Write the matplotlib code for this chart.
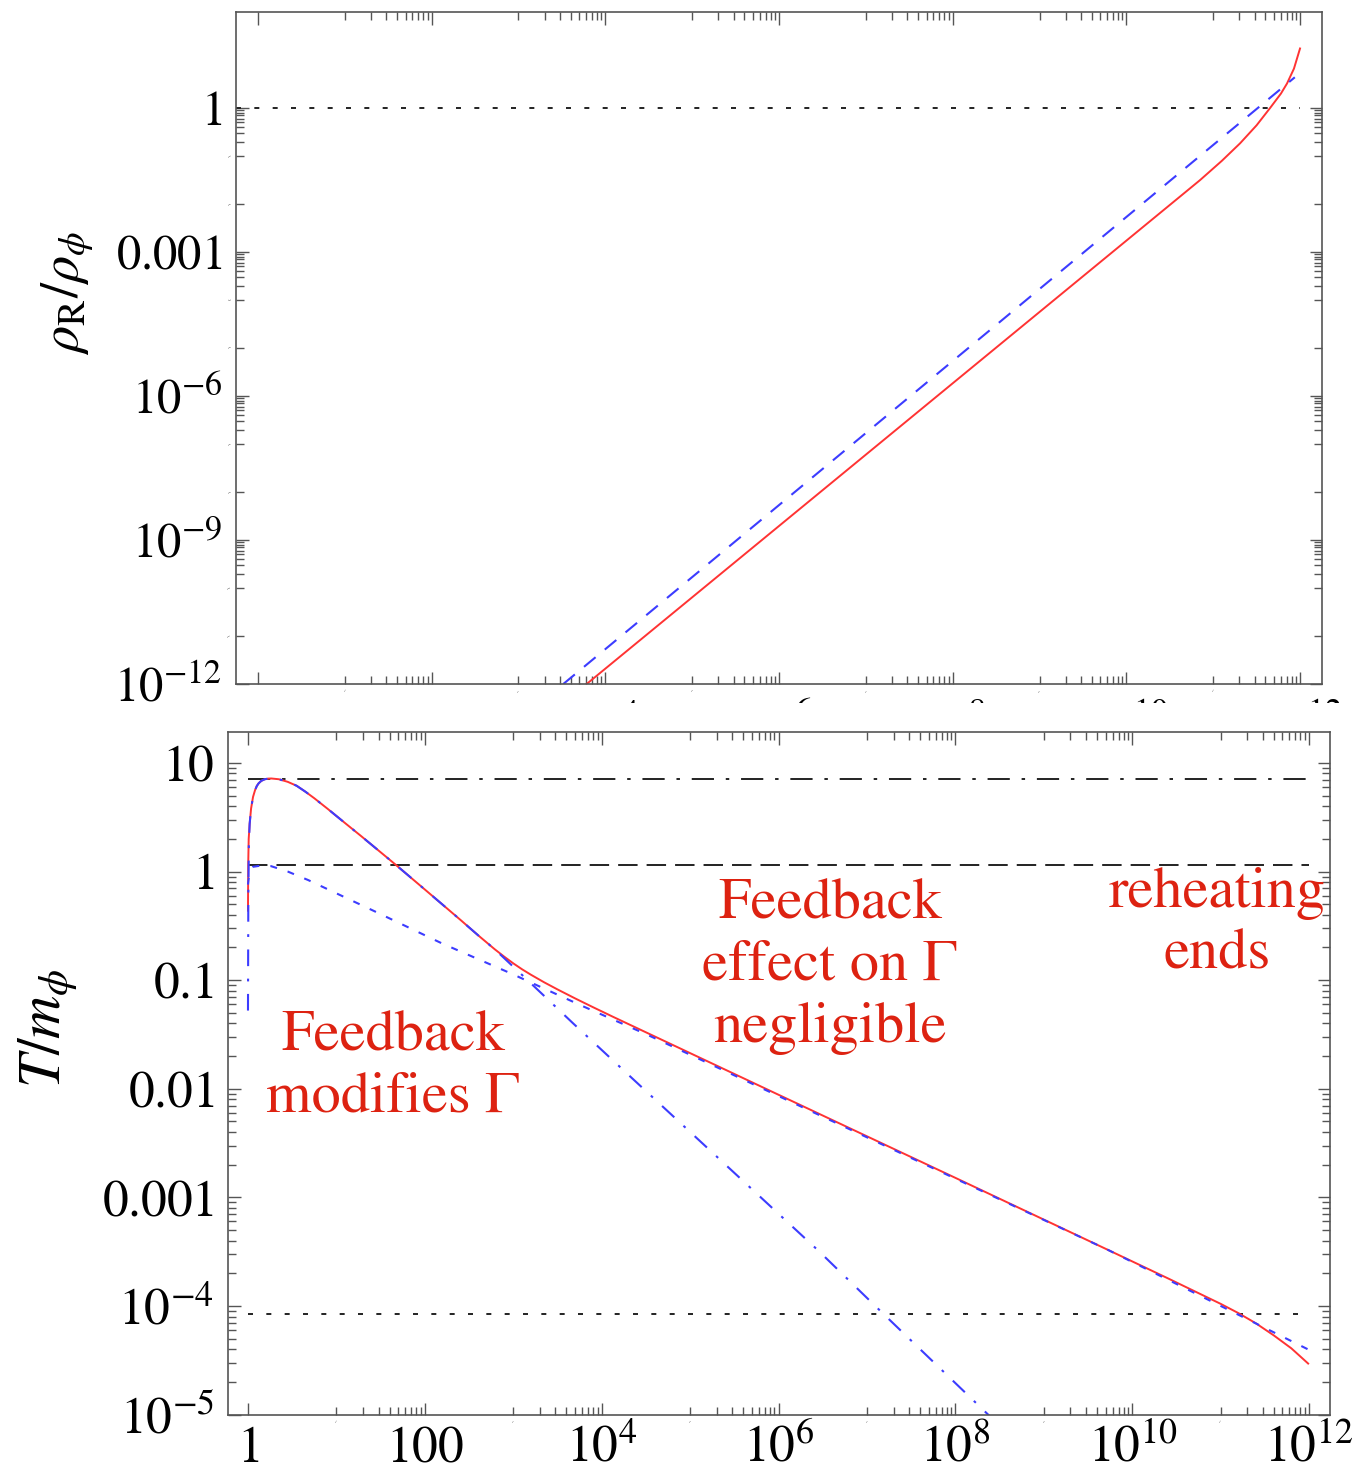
import numpy as np
import matplotlib.pyplot as plt
from matplotlib.patches import Rectangle

plt.rcParams['font.family'] = 'STIXGeneral'
plt.rcParams['mathtext.fontset'] = 'stix'
plt.rcParams['lines.scale_dashes'] = False

# ---- upper panel: rho_R / rho_phi against a (log10 values) ----
rho_full_loga = [3.785, 10.6, 10.85, 11.1, 11.31, 11.5, 11.655, 11.78, 11.85, 11.93, 12.0]
rho_full_log = [-12.0, -1.872, -1.5, -1.1, -0.735, -0.36, 0.0, 0.3, 0.51, 0.82, 1.24]
rho_appr_loga = [3.516, 11.94]
rho_appr_log = [-12.0, 0.64]

# ---- lower panel: T / m_phi against a (log10 values) ----
T_full_loga = [0.0, 0.003, 0.008, 0.019, 0.035, 0.057, 0.08, 0.10, 0.12, 0.15, 0.19, 0.23,
               0.264, 0.35, 0.45, 0.55, 0.65, 0.75, 0.905, 1.1, 1.282, 1.66, 2.036, 2.41,
               2.6, 2.79, 2.9, 3.0, 3.1, 3.2, 3.35, 3.5, 3.7, 3.9, 4.13, 6.0, 8.0, 9.73,
               10.39, 11.0, 11.2, 11.4, 11.6, 11.8, 11.99]
T_full_log = [-0.36, 0.08, 0.3, 0.44, 0.58, 0.687, 0.75, 0.788, 0.812, 0.835, 0.85, 0.856,
              0.857, 0.85, 0.826, 0.79, 0.735, 0.675, 0.575, 0.445, 0.325, 0.07, -0.19, -0.45,
              -0.585, -0.715, -0.785, -0.845, -0.9, -0.95, -1.02, -1.085, -1.168, -1.248, -1.338,
              -2.055, -2.82, -3.485, -3.74, -3.98, -4.065, -4.16, -4.27, -4.39, -4.53]

T_high_loga = [0.0, 0.004, 0.01, 0.019, 0.035, 0.057, 0.08, 0.10, 0.12, 0.15, 0.19, 0.23,
               0.264, 0.35, 0.45, 0.55, 0.65, 0.75, 0.905, 1.1, 1.282, 1.66, 2.036, 2.41,
               2.6, 2.79, 3.11, 3.68, 4.36, 6.45, 7.17, 8.46]
T_high_log = [-1.28, -0.2, 0.25, 0.44, 0.58, 0.687, 0.75, 0.788, 0.812, 0.835, 0.85, 0.856,
              0.857, 0.85, 0.826, 0.79, 0.735, 0.675, 0.575, 0.445, 0.325, 0.07, -0.19, -0.45,
              -0.585, -0.715, -0.96, -1.40, -1.915, -3.49, -4.06, -5.07]

T_low_loga = [0.0, 0.01, 0.057, 0.15, 0.26, 0.45, 0.68, 1.43, 2.19, 2.98, 3.76, 4.51,
              9.73, 11.99]
T_low_log = [-0.12, -0.05, 0.044, 0.055, 0.05, 0.0, -0.078, -0.365, -0.66, -0.94, -1.23, -1.50,
             -3.485, -4.40]

T_peak = 7.1
T_one = 1.16
T_end = 8.5e-5

RED = '#ff3333'
BLUE = '#3c3cff'
TXT = '#dd2211'
FRAME = '#555555'

fig = plt.figure(figsize=(13.56, 14.74), dpi=100)
W, H = 1356, 1474

ax1 = fig.add_axes([236 / W, 1 - 684 / H, 1086 / W, 672 / H])
ax2 = fig.add_axes([228 / W, 1 - 1414.6 / H, 1102 / W, 682.6 / H])

# upper panel
ax1.plot(10 ** np.array(rho_full_loga), 10 ** np.array(rho_full_log), color=RED, lw=1.4)
ax1.plot(10 ** np.array(rho_appr_loga), 10 ** np.array(rho_appr_log), color=BLUE, lw=1.5,
         dashes=(10.8, 8.6))
ax1.plot([10 ** -0.253, 1e12], [1, 1], color='#222222', lw=1.4, dashes=(3.6, 9.6))
ax1.set_xscale('log')
ax1.set_yscale('log')
ax1.set_xlim(10 ** -0.253, 10 ** 12.253)
ax1.set_ylim(1e-12, 1e2)

# lower panel
ax2.plot([1, 1e12], [T_peak, T_peak], color='#222222', lw=1.4, dashes=(16, 8.5, 2.5, 8.5))
ax2.plot([1, 1e12], [T_one, T_one], color='#222222', lw=1.4, dashes=(14, 6.5))
ax2.plot([1, 1e12], [T_end, T_end], color='#222222', lw=1.4, dashes=(3.6, 9.6))
ax2.plot(10 ** np.array(T_full_loga), 10 ** np.array(T_full_log), color=RED, lw=1.4)
ax2.plot(10 ** np.array(T_high_loga), 10 ** np.array(T_high_log), color=BLUE, lw=1.5,
         dashes=(12, 9, 2, 9))
ax2.plot(10 ** np.array(T_low_loga), 10 ** np.array(T_low_log), color=BLUE, lw=1.5,
         dashes=(5, 8))
ax2.set_xscale('log')
ax2.set_yscale('log')
ax2.set_xlim(10 ** -0.226, 10 ** 12.237)
ax2.set_ylim(1e-5, 10 ** 1.285)

# ticks: majors every two decades on x, Mathematica-like minor ticks
x_major = [100.0 ** k for k in range(7)]
x_minor = []
for k in range(6):
    x_minor += [10 * 100.0 ** k] + [m * 10 * 100.0 ** k for m in range(2, 10)]

y1_major = [10.0 ** k for k in (-12, -9, -6, -3, 0)]
y1_minor = []
for m in y1_major:
    y1_minor += [m * f / 10 for f in range(2, 10)] + [m / 10, m / 100]
y1_minor = [v for v in y1_minor if v > 1e-12]

y2_major = [10.0 ** k for k in range(-5, 2)]
y2_minor = [f * 10.0 ** k for k in range(-5, 1) for f in range(2, 10)]

x_labels = ['$1$', '$100$'] + [r'$10^{%d}$' % (2 * k) for k in range(2, 7)]
y1_labels = [r'$10^{-12}$', r'$10^{-9}$', r'$10^{-6}$', '$0.001$', '$1$']
y2_labels = [r'$10^{-5}$', r'$10^{-4}$', '$0.001$', '$0.01$', '$0.1$', '$1$', '$10$']

for ax, ymaj, ymin, ylab, size in ((ax1, y1_major, y1_minor, y1_labels, 35),
                                   (ax2, y2_major, y2_minor, y2_labels, 37)):
    ax.set_xticks(x_major)
    ax.set_xticks(x_minor, minor=True)
    ax.set_yticks(ymaj)
    ax.set_yticks(ymin, minor=True)
    ax.set_xticklabels(x_labels)
    ax.set_yticklabels(ylab)
    ax.tick_params(which='both', direction='in', top=True, right=True, color=FRAME, width=1.0)
    ax.tick_params(which='major', length=9, labelsize=size)
    ax.tick_params(which='minor', length=5.5, labelsize=0)
    ax.tick_params(axis='y', which='major', pad=10)
    for s in ax.spines.values():
        s.set_color(FRAME)
        s.set_linewidth(1.2)

ax1.tick_params(axis='x', which='major', pad=41)
ax2.tick_params(axis='x', which='major', pad=34)
for ax in (ax1, ax2):
    for t in ax.get_xticklabels():
        t.set_verticalalignment('baseline')

# the lower panel sits over the upper panel's x labels
fig.add_artist(Rectangle((0, 0), 1, 1 - 703 / H, transform=fig.transFigure,
                         facecolor='white', edgecolor='none', zorder=1))
ax2.set_zorder(2)

fig.text(68 / W, 1 - 293 / H, r'$\rho_{\mathrm{R}}/\rho_\phi$', rotation=90, ha='center',
         va='center', fontsize=39)
fig.text(48 / W, 1 - 1028 / H, r'$T/m_\phi$', rotation=90, ha='center', va='center',
         fontsize=43)

ax2.text(10 ** 1.64, 10 ** -1.805, 'Feedback\nmodifies Γ', color=TXT, fontsize=42,
         ha='center', va='center', linespacing=1.22)
ax2.text(10 ** 6.58, 10 ** -0.875, 'Feedback\neffect on Γ\nnegligible', color=TXT, fontsize=42,
         ha='center', va='center', linespacing=1.22)
ax2.text(10 ** 10.96, 10 ** -0.487, 'reheating\nends', color=TXT, fontsize=42,
         ha='center', va='center', linespacing=1.22, clip_on=False)

fig.savefig('out.png', dpi=100, facecolor='white')
